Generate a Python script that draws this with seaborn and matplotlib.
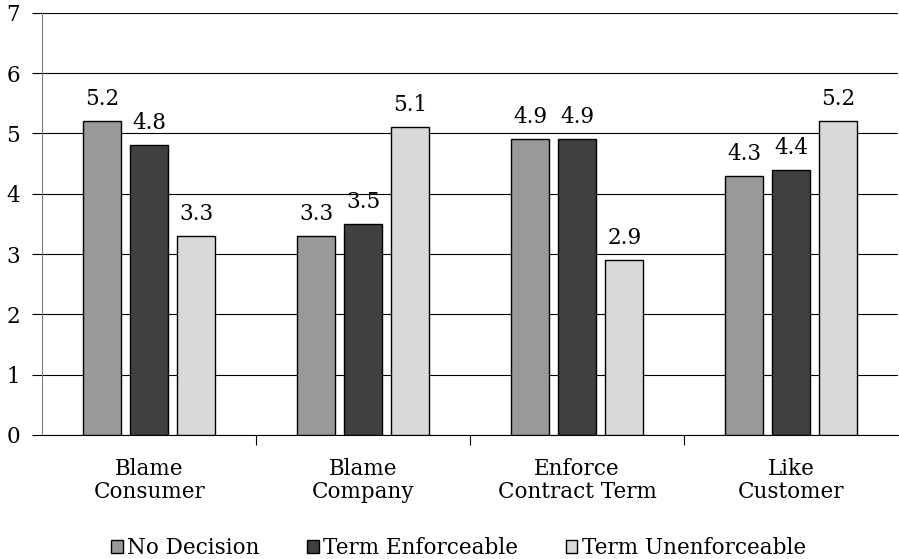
import matplotlib
matplotlib.use("Agg")
import matplotlib.pyplot as plt
import seaborn as sns
import pandas as pd
from matplotlib.patches import Patch

categories = ["Blame\nConsumer", "Blame\nCompany", "Enforce\nContract Term", "Like\nCustomer"]
series = ["No Decision", "Term Enforceable", "Term Unenforceable"]
no_decision = [5.2, 3.3, 4.9, 4.3]
term_enforceable = [4.8, 3.5, 4.9, 4.4]
term_unenforceable = [3.3, 5.1, 2.9, 5.2]
colors = ["#999999", "#404040", "#d9d9d9"]

rows = []
for s, vals in zip(series, [no_decision, term_enforceable, term_unenforceable]):
    for c, v in zip(categories, vals):
        rows.append({"category": c, "series": s, "value": v})
df = pd.DataFrame(rows)

sns.set_style("white")
plt.rcParams["font.family"] = ["DejaVu Serif"]
plt.rcParams["font.size"] = 15.5
plt.rcParams["text.color"] = "black"
plt.rcParams["xtick.color"] = "black"
plt.rcParams["ytick.color"] = "black"
plt.rcParams["xtick.labelcolor"] = "black"
plt.rcParams["ytick.labelcolor"] = "black"

FS = 15.5
fig = plt.figure(figsize=(8.99, 5.59), dpi=100)
ax = fig.add_axes([0.047, 0.222, 0.952, 0.755])

sns.barplot(data=df, x="category", y="value", hue="series", palette=colors,
            width=0.66, gap=0.2, edgecolor="black", linewidth=1.0,
            legend=False, ax=ax, zorder=3)

for cont in ax.containers:
    ax.bar_label(cont, fmt="%.1f", padding=8, fontsize=FS, color="black")

ax.set_ylim(0, 7)
ax.set_xlim(-0.5, 3.5)
ax.set_yticks(range(0, 8))
ax.yaxis.grid(True, color="black", linewidth=0.8, zorder=0)
ax.set_axisbelow(True)
ax.set_xlabel("")
ax.set_ylabel("")
for sp in ["top", "right"]:
    ax.spines[sp].set_visible(False)
ax.spines["left"].set_color("#808080")
ax.spines["bottom"].set_color("black")
ax.tick_params(axis="y", which="major", left=True, length=7, width=0.8, color="black", labelsize=FS, pad=9)
ax.tick_params(axis="x", which="major", bottom=False, labelsize=FS, pad=13)
ax.set_xticks([0.5, 1.5, 2.5], minor=True)
ax.tick_params(axis="x", which="minor", bottom=True, length=7, width=0.8, color="black", direction="out")
for lab in ax.get_xticklabels():
    lab.set_linespacing(1.05)

handles = [Patch(facecolor=c, edgecolor="black", linewidth=1.0) for c in colors]
fig.legend(handles, series, loc="center", bbox_to_anchor=(0.51, 0.02), ncol=3,
           frameon=False, fontsize=FS, handlelength=0.55, handleheight=0.55,
           handletextpad=0.2, columnspacing=2.2, borderpad=0)

fig.savefig("out.png", dpi=100)
